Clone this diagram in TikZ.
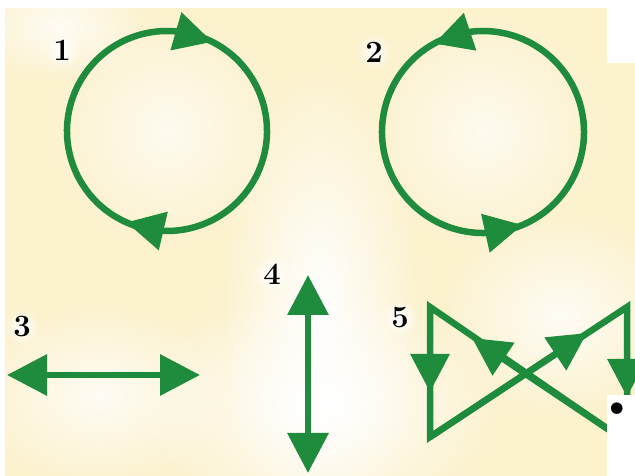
\documentclass[tikz,border=0pt]{standalone}
\usetikzlibrary{arrows.meta,bending,calc,fadings}
\definecolor{gr}{RGB}{30,140,60}
\definecolor{cream}{RGB}{252,242,206}
\tikzfading[name=softball, inner color=transparent!0, outer color=transparent!100]
\tikzset{
  ln/.style={draw=gr, line width=6.5pt},
  tip/.style={ln, -{Triangle[length=38pt,width=38pt,flex]}},
  both/.style={ln, {Triangle[length=40pt,width=40pt]}-{Triangle[length=40pt,width=40pt]}},
  tri/.style={ln, -{Triangle[length=38pt,width=38pt]}},
  lbl/.style={font=\fontsize{31}{31}\selectfont\bfseries, inner sep=1pt},
  halo/.style={white, path fading=softball}
}
\begin{document}
\begin{tikzpicture}[x=1pt,y=1pt]
\useasboundingbox (0,0) rectangle (635,476);
% background
\fill[cream] (0,0) rectangle (635,476);
\fill[halo] (320,170) ellipse (100 and 240);
\fill[halo] (320,70) ellipse (180 and 120);
\fill[halo, opacity=0.7] (167,345) ellipse (115 and 115);
\fill[halo, opacity=0.7] (483,344) ellipse (115 and 115);
\fill[halo, opacity=0.8] (560,160) ellipse (120 and 100);
\fill[halo, opacity=0.8] (100,80) ellipse (130 and 90);
\fill[halo, opacity=0.8] (60,450) ellipse (90 and 55);
\fill[white] (0,468) rectangle (635,476);
\fill[white] (0,0) rectangle (5,476);
% circle 1 (clockwise)
\coordinate (c1) at (167,345);
\draw[tip] ($(c1)+(252:100)$) arc[start angle=252, end angle=63, radius=100];
\draw[tip] ($(c1)+(69:100)$) arc[start angle=69, end angle=-114, radius=100];
% circle 2 (counter-clockwise)
\coordinate (c2) at (483,344);
\draw[tip] ($(c2)+(287:101)$) arc[start angle=287, end angle=479, radius=101];
\draw[tip] ($(c2)+(113:101)$) arc[start angle=113, end angle=293, radius=101];
% arrow 3
\coordinate (a3l) at (7,101);
\coordinate (a3r) at (200,101);
\draw[both] (a3l) -- (a3r);
% arrow 4
\coordinate (a4t) at (308,201);
\coordinate (a4b) at (308,3);
\draw[both] (a4t) -- (a4b);
% figure 5
\coordinate (TL) at (430,169);
\coordinate (BL) at (430,39);
\coordinate (TR) at (627,169);
\coordinate (BR) at (627,34);
\draw[ln, line join=miter] (TL) -- (BL) -- (TR) -- (BR) -- cycle;
\coordinate (t1) at (430,84);
\coordinate (t2) at (587,143);
\coordinate (t3) at (627,79);
\coordinate (t4) at (472,138);
\draw[tri] (TL) -- (t1);
\draw[tri] (BL) -- (t2);
\draw[tri] (TR) -- (t3);
\draw[tri] (BR) -- (t4);
% white patches
\fill[white] (607,413) rectangle (635,476);
\fill[white] (607,0) rectangle (635,81);
\node[font=\fontsize{52}{52}\selectfont, inner sep=0pt] (bul) at (617,63) {\textbullet};
% labels
\fill[halo] (62,426) circle (18);
\fill[halo] (374,424) circle (18);
\fill[halo] (22,149) circle (18);
\fill[halo] (272,202) circle (18);
\fill[halo] (400,158) circle (18);
\node[lbl] (l1) at (62,426) {1};
\node[lbl] (l2) at (374,424) {2};
\node[lbl] (l3) at (22,149) {3};
\node[lbl] (l4) at (272,202) {4};
\node[lbl] (l5) at (400,158) {5};
\end{tikzpicture}
\end{document}
